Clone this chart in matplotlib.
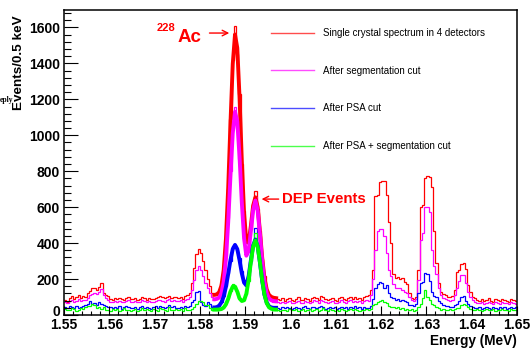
import numpy as np
import matplotlib.pyplot as plt
import matplotlib.transforms as mtransforms
from matplotlib.ticker import MultipleLocator

# histogram binning: 0.5 keV bins from 1.55 to 1.65 MeV
e_lo = 1.55
bin_w = 0.0005
n_bins = 200

# counts per bin
single_crystal = [
    85, 75, 95, 105, 90, 100, 110, 95, 105, 100,
    120, 135, 150, 152, 140, 158, 180, 125, 112, 105,
    90, 85, 95, 88, 95, 90, 85, 92, 100, 90,
    88, 95, 85, 90, 100, 92, 85, 95, 90, 88,
    95, 100, 105, 98, 92, 100, 108, 95, 102, 98,
    95, 100, 90, 105, 110, 120, 180, 260, 340, 370,
    345, 300, 250, 200, 160, 125, 115, 110, 125, 170,
    265, 440, 700, 1090, 1420, 1610, 1450, 1230, 840, 580,
    400, 415, 480, 620, 690, 590, 470, 310, 215, 135,
    115, 100, 90, 95, 88, 85, 92, 80, 88, 95,
    85, 80, 90, 98, 85, 82, 95, 88, 80, 92,
    100, 95, 85, 105, 98, 88, 82, 90, 95, 85,
    80, 92, 100, 88, 85, 95, 102, 90, 98, 88,
    95, 85, 100, 105, 110, 140, 250, 660, 670, 740,
    745, 745, 665, 520, 400, 230, 205, 210, 200, 205,
    185, 175, 120, 95, 90, 100, 250, 600, 610, 760,
    775, 770, 710, 470, 290, 180, 130, 115, 110, 100,
    100, 105, 140, 240, 250, 285, 287, 255, 165, 130,
    100, 95, 85, 80, 90, 78, 85, 92, 80, 75,
    88, 82, 78, 90, 85, 80, 75, 88, 82, 78,
]
seg_cut = [
    70, 65, 78, 85, 72, 80, 88, 78, 85, 82,
    95, 110, 118, 122, 115, 128, 145, 110, 95, 85,
    75, 70, 78, 72, 80, 74, 70, 76, 82, 72,
    72, 78, 70, 75, 82, 76, 70, 78, 74, 72,
    78, 82, 86, 80, 75, 82, 88, 78, 84, 80,
    78, 82, 75, 85, 90, 100, 140, 195, 250, 270,
    250, 215, 180, 150, 120, 100, 92, 88, 100, 130,
    200, 330, 540, 800, 1040, 1160, 1070, 870, 610, 430,
    340, 350, 480, 590, 655, 570, 440, 290, 180, 115,
    90, 82, 75, 78, 72, 68, 75, 65, 70, 78,
    68, 65, 72, 80, 68, 66, 78, 70, 64, 74,
    82, 76, 68, 85, 78, 70, 65, 72, 78, 68,
    64, 74, 82, 70, 68, 76, 84, 72, 80, 70,
    76, 68, 80, 85, 80, 110, 200, 360, 470, 480,
    478, 440, 345, 250, 215, 170, 150, 148, 150, 140,
    130, 120, 100, 85, 80, 90, 195, 420, 455, 600,
    600, 575, 360, 270, 230, 150, 110, 95, 90, 85,
    80, 85, 110, 150, 190, 220, 225, 180, 130, 100,
    85, 75, 68, 64, 72, 62, 68, 75, 64, 60,
    70, 66, 62, 72, 68, 64, 60, 70, 66, 62,
]
psa_cut = [
    45, 40, 50, 42, 38, 48, 40, 45, 52, 55,
    62, 78, 60, 65, 58, 70, 62, 55, 48, 45,
    42, 38, 45, 40, 48, 35, 42, 50, 44, 38,
    40, 46, 36, 42, 50, 38, 44, 40, 35, 45,
    48, 40, 52, 45, 38, 46, 55, 42, 48, 40,
    38, 45, 40, 52, 45, 50, 75, 85, 130, 135,
    75, 55, 52, 70, 60, 45, 40, 38, 50, 72,
    105, 160, 235, 300, 385, 392, 360, 315, 245, 190,
    162, 215, 300, 395, 486, 380, 290, 185, 115, 70,
    50, 42, 40, 45, 38, 35, 42, 38, 45, 40,
    36, 40, 45, 38, 34, 42, 48, 40, 35, 44,
    46, 38, 42, 50, 44, 36, 40, 45, 38, 42,
    35, 40, 46, 38, 42, 36, 44, 40, 48, 38,
    42, 36, 45, 40, 40, 50, 90, 150, 170, 185,
    180, 150, 165, 125, 100, 95, 85, 88, 80, 85,
    78, 70, 58, 55, 50, 60, 125, 180, 185, 235,
    230, 190, 130, 105, 100, 80, 65, 58, 50, 48,
    45, 45, 55, 60, 78, 100, 105, 80, 60, 50,
    45, 40, 38, 42, 36, 40, 44, 38, 35, 42,
    40, 36, 44, 38, 42, 35, 40, 45, 38, 42,
]
psa_seg_cut = [
    35, 30, 28, 40, 32, 25, 30, 38, 35, 45,
    50, 48, 62, 58, 40, 45, 35, 42, 30, 28,
    25, 32, 28, 35, 22, 30, 38, 26, 30, 24,
    28, 35, 22, 30, 40, 26, 32, 28, 24, 35,
    30, 25, 38, 32, 28, 22, 45, 30, 26, 35,
    28, 32, 25, 40, 30, 28, 35, 45, 60, 78,
    80, 75, 55, 58, 40, 30, 28, 30, 32, 38,
    48, 70, 95, 135, 171, 160, 135, 95, 80, 85,
    115, 190, 300, 390, 458, 390, 290, 185, 110, 62,
    40, 32, 28, 35, 26, 24, 30, 28, 22, 32,
    26, 30, 35, 24, 28, 32, 22, 30, 36, 25,
    28, 34, 24, 30, 38, 26, 22, 32, 28, 25,
    30, 24, 35, 28, 22, 30, 34, 26, 32, 28,
    25, 30, 28, 35, 30, 32, 55, 62, 70, 80,
    85, 70, 65, 52, 45, 45, 40, 42, 35, 40,
    30, 35, 28, 32, 25, 30, 45, 60, 95, 140,
    100, 85, 60, 55, 45, 40, 30, 35, 30, 28,
    32, 28, 35, 40, 40, 55, 62, 58, 45, 35,
    30, 26, 32, 28, 24, 30, 35, 26, 28, 32,
    25, 30, 28, 34, 26, 30, 24, 32, 28, 30,
]

# fitted curves over the Ac / DEP region, one value per bin centre from bin 65
fit_first = 65
single_crystal_fit = [112, 112, 115, 127, 163, 250, 425, 710, 1068, 1396,
                      1561, 1486, 1211, 860, 566, 410, 402, 496, 608, 655,
                      600, 467, 319, 206, 142, 112, 101, 96, 94, 92]
seg_cut_fit = [88, 87, 90, 97, 122, 185, 312, 517, 775, 1011,
               1131, 1078, 881, 627, 426, 330, 357, 466, 583, 637,
               581, 448, 299, 185, 121, 92, 82, 78, 76, 75]
psa_cut_fit = [42, 42, 44, 52, 70, 103, 157, 229, 306, 367,
               390, 367, 305, 232, 180, 165, 215, 304, 387, 420,
               383, 292, 190, 113, 69, 49, 42, 40, 40, 40]
psa_seg_cut_fit = [30, 30, 30, 31, 33, 41, 59, 90, 130, 158,
                   158, 130, 92, 78, 82, 118, 194, 294, 380, 415,
                   380, 294, 194, 115, 66, 43, 35, 31, 30, 30]

labels = ["Single crystal spectrum in 4 detectors", "After segmentation cut",
          "After PSA cut", "After PSA + segmentation cut"]
colors = ["#ff0000", "#ff00ff", "#0000ff", "#00ff00"]

x_ticks = [1.55, 1.56, 1.57, 1.58, 1.59, 1.60, 1.61, 1.62, 1.63, 1.64, 1.65]
x_tick_labels = ["1.55", "1.56", "1.57", "1.58", "1.59", "1.6",
                 "1.61", "1.62", "1.63", "1.64", "1.65"]
y_ticks = [0, 200, 400, 600, 800, 1000, 1200, 1400, 1600]

edges = e_lo + bin_w * np.arange(n_bins + 1)
centers = edges[:-1] + bin_w / 2

plt.rcParams['font.family'] = ['Liberation Sans', 'DejaVu Sans']

fig = plt.figure(figsize=(5.3, 3.48), dpi=100)
ax = fig.add_axes([64/530, 33/348, 453/530, 305.5/348])

hists = [single_crystal, seg_cut, psa_cut, psa_seg_cut]
fits = [single_crystal_fit, seg_cut_fit, psa_cut_fit, psa_seg_cut_fit]
handles = []
for h, f, c, lab in zip(hists, fits, colors, labels):
    ax.stairs(h, edges, baseline=None, color=c, lw=0.9, label=lab)
    xf = centers[fit_first:fit_first + len(f)]
    ax.plot(xf, f, color=c, lw=2.8, solid_capstyle='butt')
    handles.append(plt.Line2D([], [], color=c, lw=1.0, alpha=0.7))

ax.set_xlim(1.55, 1.65)
ax.set_ylim(0, 1700)
ax.set_xticks(x_ticks)
ax.set_xticklabels(x_tick_labels)
ax.set_yticks(y_ticks)
ax.xaxis.set_minor_locator(MultipleLocator(0.002))
ax.yaxis.set_minor_locator(MultipleLocator(40))
ax.tick_params(which='both', direction='in', top=False, right=False, width=0.8)
ax.tick_params(axis='y', which='major', length=10, pad=3)
ax.tick_params(axis='y', which='minor', length=5)
ax.tick_params(axis='x', which='major', length=6.5, pad=2.5)
ax.tick_params(axis='x', which='minor', length=3.2)
for lab in ax.get_xticklabels() + ax.get_yticklabels():
    lab.set_fontsize(10)
    lab.set_fontweight('bold')
for sp in ax.spines.values():
    sp.set_linewidth(1.1)

# nudge the "0" label up a little so it clears "1.55"
zero_lab = ax.get_yticklabels()[0]
zero_lab.set_transform(zero_lab.get_transform() +
                       mtransforms.ScaledTranslation(0, 3/72, fig.dpi_scale_trans))

leg = ax.legend(handles, labels, loc='upper left',
                bbox_to_anchor=(271/530, 1 - 28/348), bbox_transform=fig.transFigure,
                frameon=False, fontsize=7.0, borderpad=0, borderaxespad=0,
                handlelength=4.4, handletextpad=0.93, labelspacing=2.85)

# annotations
ax.text(1.5705, 1580, "228", color='red', fontsize=8, fontweight='bold',
        ha='left', va='baseline')
ax.text(1.5751, 1521, "Ac", color='red', fontsize=13.5, fontweight='bold',
        ha='left', va='baseline')
ax.annotate("", xy=(1.5871, 1569), xytext=(1.5815, 1569),
            arrowprops=dict(arrowstyle='->', color='red', lw=1.0, mutation_scale=10))
ax.text(1.5982, 645, "DEP Events", color='red', fontsize=10.8, fontweight='bold',
        ha='left', va='center')
ax.annotate("", xy=(1.5930, 645), xytext=(1.5980, 645),
            arrowprops=dict(arrowstyle='->', color='red', lw=1.0, mutation_scale=10))

fig.text(19/530, 1 - 63/348, "Events/0.5 keV", rotation=90, fontsize=9.7,
         fontweight='bold', ha='center', va='center')
fig.text(517/530, 1 - 345/348, "Energy (MeV)", fontsize=9.8, fontweight='bold',
         ha='right', va='baseline')
fig.text(0.0, 1 - 101.5/348, "eply", fontsize=5.5, family='Liberation Serif',
         fontweight='bold', ha='left', va='baseline')

fig.savefig("out.png", dpi=100)
